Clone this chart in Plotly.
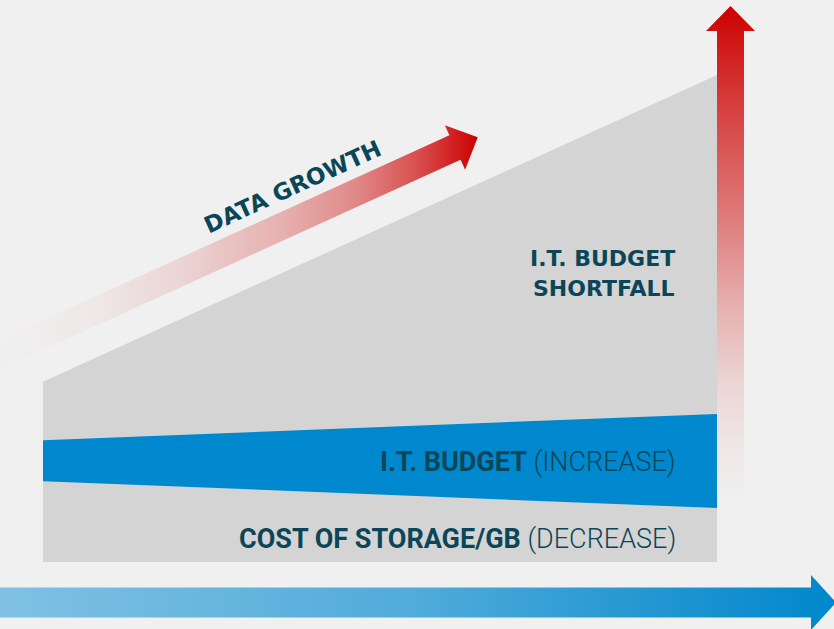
import math
import plotly.graph_objects as go

# ---------------- data ----------------
periods = [0, 10]                  # start / end of the time span
total_demand = [37.0, 100.0]       # top of grey area: storage needed as data grows
budget_upper = [25.0, 30.4]        # upper edge of the I.T. budget band (increase)
budget_lower = [16.6, 11.1]        # lower edge of band = cost of storage/GB (decrease)

growth_label = "DATA GROWTH"
shortfall_lines = ["I.T. BUDGET", "SHORTFALL"]
budget_label = ["I.T. BUDGET", "(INCREASE)"]
cost_label = ["COST OF STORAGE/GB", "(DECREASE)"]

# ---------------- styling / frame ----------------
W, H = 834, 629
BG = "#f0f0f0"
GRAY = "#d4d4d4"
BLUE = "#0088ce"
TEXT = "#0b4658"

PX_LEFT, PX_RIGHT = 43, 717        # pixel columns of periods[0], periods[1]
PX_BASE, PX_TOP = 562, 75          # pixel rows of value 0 and value 100
kx = (PX_RIGHT - PX_LEFT) / (periods[1] - periods[0])
ky = (PX_BASE - PX_TOP) / 100.0
x_range = [periods[0] - PX_LEFT / kx, periods[0] + (W - PX_LEFT) / kx]
y_range = [-(H - PX_BASE) / ky, PX_BASE / ky]


def dx(xp):
    return periods[0] + (xp - PX_LEFT) / kx


def dy(yp):
    return (PX_BASE - yp) / ky


def to_px(x, y):
    return PX_LEFT + (x - periods[0]) * kx, PX_BASE - y * ky


def arrow_polygon(tip, ux, uy, length, shaft_half, head_half, head_len):
    """Arrow outline in pixel space (y down); returns data-space lists."""
    tx, ty = tip
    nx, ny = -uy, ux
    bx, by = tx - head_len * ux, ty - head_len * uy
    ax, ay = tx - length * ux, ty - length * uy
    pts = [
        (ax + shaft_half * nx, ay + shaft_half * ny),
        (bx + shaft_half * nx, by + shaft_half * ny),
        (bx + head_half * nx, by + head_half * ny),
        (tx, ty),
        (bx - head_half * nx, by - head_half * ny),
        (bx - shaft_half * nx, by - shaft_half * ny),
        (ax - shaft_half * nx, ay - shaft_half * ny),
    ]
    pts.append(pts[0])
    return [dx(p[0]) for p in pts], [dy(p[1]) for p in pts]


fig = go.Figure()

# grey area (total demand)
fig.add_trace(go.Scatter(
    x=[periods[0], periods[1], periods[1], periods[0], periods[0]],
    y=[0, 0, total_demand[1], total_demand[0], 0],
    fill="toself", fillcolor=GRAY, mode="lines", line=dict(width=0),
    hoverinfo="skip"))

# blue budget band
fig.add_trace(go.Scatter(
    x=[periods[0], periods[1], periods[1], periods[0], periods[0]],
    y=[budget_lower[0], budget_lower[1], budget_upper[1], budget_upper[0], budget_lower[0]],
    fill="toself", fillcolor=BLUE, mode="lines", line=dict(width=0),
    hoverinfo="skip"))

# diagonal "data growth" arrow, parallel to the demand line
slope = (total_demand[1] - total_demand[0]) / (periods[1] - periods[0])
theta = math.atan(slope * ky / kx)
tip_x = 6.45
tip_y = total_demand[0] + slope * (tip_x - periods[0]) + 9.6
tpx = to_px(tip_x, tip_y)
ax_, ay_ = arrow_polygon(tpx, math.cos(theta), -math.sin(theta),
                         560, 13.5, 24.5, 25)
fig.add_trace(go.Scatter(
    x=ax_, y=ay_, fill="toself", mode="lines", line=dict(width=0),
    fillgradient=dict(type="horizontal", start=dx(-10), stop=dx(tpx[0]),
                      colorscale=[[0, "rgba(204,0,0,0)"], [0.2, "rgba(204,0,0,0.03)"],
                                  [0.4, "rgba(204,0,0,0.12)"], [0.6, "rgba(206,10,10,0.28)"],
                                  [0.75, "rgba(206,10,10,0.45)"], [0.87, "rgba(206,8,8,0.68)"],
                                  [1, "rgba(204,0,0,1)"]]),
    hoverinfo="skip"))

# vertical red arrow at the end of the period
vx = PX_RIGHT + 13.5
vax, vay = arrow_polygon((vx, 6), 0, -1, 504, 13.5, 24.5, 25)
fig.add_trace(go.Scatter(
    x=vax, y=vay, fill="toself", mode="lines", line=dict(width=0),
    fillgradient=dict(type="vertical", start=dy(505), stop=dy(6),
                      colorscale=[[0, "rgba(204,0,0,0)"], [0.12, "rgba(204,0,0,0.04)"],
                                  [0.25, "rgba(204,0,0,0.12)"], [0.41, "rgba(204,0,0,0.28)"],
                                  [0.61, "rgba(206,10,10,0.55)"], [0.81, "rgba(206,8,8,0.78)"],
                                  [1, "rgba(204,0,0,1)"]]),
    hoverinfo="skip"))

# bottom blue time arrow
bax, bay = arrow_polygon((836, 602.5), 1, 0, 846, 15, 27.5, 25)
fig.add_trace(go.Scatter(
    x=bax, y=bay, fill="toself", mode="lines", line=dict(width=0),
    fillgradient=dict(type="horizontal", start=dx(0), stop=dx(834),
                      colorscale=[[0, "#80c1e3"], [0.5, "#50abda"], [1, "#0087cc"]]),
    hoverinfo="skip"))

anns = []
anns.append(dict(x=dx(292), y=dy(187), text="<b>%s</b>" % growth_label,
                 textangle=-math.degrees(theta), showarrow=False,
                 xanchor="center", yanchor="middle",
                 font=dict(family="DejaVu Sans", size=23, color=TEXT)))
for i, line in enumerate(shortfall_lines):
    anns.append(dict(x=dx(677), y=dy(258 + 30 * i), text="<b>%s</b>" % line,
                     showarrow=False, xanchor="right", yanchor="middle",
                     font=dict(family="DejaVu Sans", size=22, color=TEXT)))
anns.append(dict(x=dx(678), y=dy(462), text="<b>%s</b> %s" % tuple(budget_label),
                 showarrow=False, xanchor="right", yanchor="middle",
                 font=dict(family="Roboto", size=27, color=TEXT, weight=300)))
anns.append(dict(x=dx(678), y=dy(539), text="<b>%s</b> %s" % tuple(cost_label),
                 showarrow=False, xanchor="right", yanchor="middle",
                 font=dict(family="Roboto", size=27, color=TEXT, weight=300)))

fig.update_layout(
    width=W, height=H, margin=dict(l=0, r=0, t=0, b=0),
    paper_bgcolor=BG, plot_bgcolor=BG, showlegend=False,
    xaxis=dict(range=x_range, visible=False, fixedrange=True),
    yaxis=dict(range=y_range, visible=False, fixedrange=True),
    annotations=anns, hovermode=False)

fig.write_html("out.html", config={"displayModeBar": False},
               post_script="document.body.style.margin='0';"
                           "document.body.style.overflow='hidden';"
                           "document.body.style.background='%s';" % BG)
